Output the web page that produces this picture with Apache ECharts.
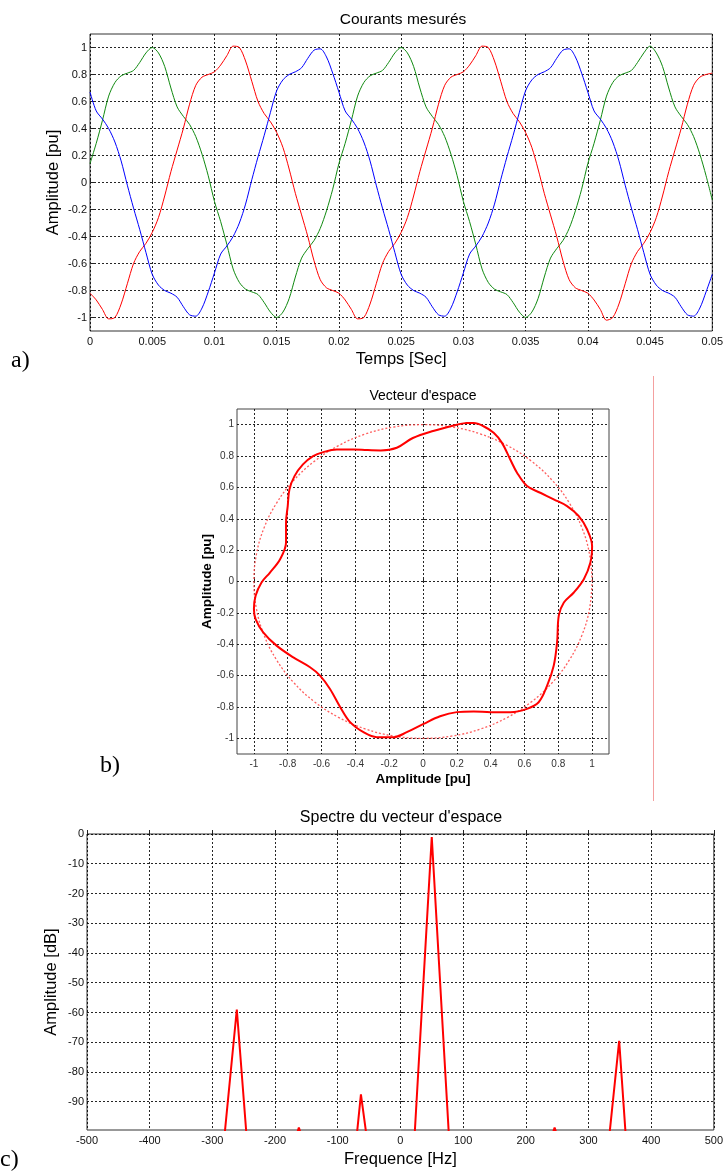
<!DOCTYPE html>
<html><head><meta charset="utf-8">
<script src="https://cdn.jsdelivr.net/npm/echarts@6/dist/echarts.min.js"></script>
<style>html,body{margin:0;padding:0;background:#fff}#c{width:726px;height:1171px}</style>
</head><body><div id="c"></div>
<script>
// ---------- Panel a : measured currents ----------
const timeA = [0,0.0005,0.001,0.0015,0.002,0.0025,0.003,0.0035,0.004,0.0045,0.005,0.0055,0.006,0.0065,0.007,0.0075,0.008,0.0085,0.009,0.0095,
0.01,0.0105,0.011,0.0115,0.012,0.0125,0.013,0.0135,0.014,0.0145,0.015,0.0155,0.016,0.0165,0.017,0.0175,0.018,0.0185,0.019,0.0195,
0.02,0.0205,0.021,0.0215,0.022,0.0225,0.023,0.0235,0.024,0.0245,0.025,0.0255,0.026,0.0265,0.027,0.0275,0.028,0.0285,0.029,0.0295,
0.03,0.0305,0.031,0.0315,0.032,0.0325,0.033,0.0335,0.034,0.0345,0.035,0.0355,0.036,0.0365,0.037,0.0375,0.038,0.0385,0.039,0.0395,
0.04,0.0405,0.041,0.0415,0.042,0.0425,0.043,0.0435,0.044,0.0445,0.045,0.0455,0.046,0.0465,0.047,0.0475,0.048,0.0485,0.049,0.0495,0.05];
const greenA = [0.14,0.29,0.46,0.64,0.74,0.79,0.81,0.83,0.89,0.96,1.00,0.96,0.86,0.70,0.56,0.49,0.43,0.34,0.21,0.05,
-0.14,-0.29,-0.46,-0.64,-0.74,-0.79,-0.81,-0.83,-0.89,-0.96,-1.00,-0.96,-0.86,-0.70,-0.56,-0.49,-0.43,-0.34,-0.21,-0.05,
0.14,0.29,0.46,0.64,0.74,0.79,0.81,0.83,0.89,0.96,1.00,0.96,0.86,0.70,0.56,0.49,0.43,0.34,0.21,0.05,
-0.14,-0.29,-0.46,-0.64,-0.74,-0.79,-0.81,-0.83,-0.89,-0.96,-1.00,-0.96,-0.86,-0.70,-0.56,-0.49,-0.43,-0.34,-0.21,-0.05,
0.14,0.29,0.46,0.64,0.74,0.79,0.81,0.83,0.89,0.96,1.01,0.96,0.86,0.70,0.56,0.49,0.43,0.34,0.21,0.05,-0.13];
const redA = [-0.82,-0.87,-0.94,-1.01,-1.00,-0.90,-0.75,-0.60,-0.51,-0.45,-0.37,-0.26,-0.10,0.08,0.24,0.40,0.58,0.72,0.78,0.80,
0.82,0.87,0.94,1.01,1.00,0.90,0.75,0.60,0.51,0.45,0.37,0.26,0.10,-0.08,-0.24,-0.40,-0.58,-0.72,-0.78,-0.80,
-0.82,-0.87,-0.94,-1.01,-1.00,-0.90,-0.75,-0.60,-0.51,-0.45,-0.37,-0.26,-0.10,0.08,0.24,0.40,0.58,0.72,0.78,0.80,
0.82,0.87,0.94,1.01,1.00,0.90,0.75,0.60,0.51,0.45,0.37,0.26,0.10,-0.08,-0.24,-0.40,-0.58,-0.72,-0.78,-0.80,
-0.82,-0.87,-0.94,-1.02,-1.00,-0.90,-0.75,-0.60,-0.51,-0.45,-0.37,-0.26,-0.10,0.08,0.24,0.40,0.58,0.72,0.78,0.80,0.81];
const blueA = [0.67,0.53,0.47,0.40,0.30,0.16,-0.02,-0.19,-0.35,-0.52,-0.68,-0.76,-0.80,-0.82,-0.85,-0.92,-0.98,-0.99,-0.93,-0.81,
-0.67,-0.53,-0.47,-0.40,-0.30,-0.16,0.02,0.19,0.35,0.52,0.68,0.76,0.80,0.82,0.85,0.92,0.98,0.99,0.93,0.81,
0.67,0.53,0.47,0.40,0.30,0.16,-0.02,-0.19,-0.35,-0.52,-0.68,-0.76,-0.80,-0.82,-0.85,-0.92,-0.98,-0.99,-0.93,-0.81,
-0.67,-0.53,-0.47,-0.40,-0.30,-0.16,0.02,0.19,0.35,0.52,0.68,0.76,0.80,0.82,0.85,0.92,0.98,0.99,0.93,0.81,
0.67,0.53,0.47,0.40,0.30,0.16,-0.02,-0.19,-0.35,-0.52,-0.68,-0.76,-0.80,-0.82,-0.85,-0.92,-0.98,-0.99,-0.93,-0.81,-0.68];
const xTicksA = [0,0.005,0.01,0.015,0.02,0.025,0.03,0.035,0.04,0.045,0.05];
const yTicksA = [-1,-0.8,-0.6,-0.4,-0.2,0,0.2,0.4,0.6,0.8,1];

// ---------- Panel b : space vector ----------
const vecX = [0.25,0.20,0.06,-0.06,-0.155,-0.25,-0.33,-0.41,-0.51,-0.59,-0.65,-0.71,-0.76,-0.79,-0.80,-0.81,-0.81,-0.845,-0.905,-0.955,
-0.99,-1.0,-0.99,-0.945,-0.866,-0.767,-0.668,-0.609,-0.55,-0.49,-0.431,-0.352,-0.273,-0.175,-0.096,0.003,0.101,0.20,0.30,0.40,
0.517,0.615,0.684,0.734,0.773,0.793,0.803,0.833,0.892,0.951,0.99,1.0,0.97,0.92,0.852,0.773,0.694,0.615,0.556,0.516,
0.467,0.418,0.358,0.30,0.25];
const vecY = [1.01,1.0,0.96,0.915,0.853,0.836,0.838,0.842,0.842,0.825,0.80,0.747,0.672,0.587,0.481,0.375,0.248,0.142,0.057,-0.006,
-0.091,-0.176,-0.24,-0.324,-0.409,-0.484,-0.547,-0.60,-0.685,-0.80,-0.897,-0.961,-0.993,-0.993,-0.961,-0.908,-0.859,-0.833,-0.829,-0.833,
-0.833,-0.812,-0.77,-0.664,-0.537,-0.388,-0.218,-0.134,-0.07,0.015,0.121,0.227,0.333,0.418,0.481,0.524,0.566,0.609,0.694,0.778,
0.884,0.948,0.99,1.01,1.01];
const circX = [1,0.985,0.940,0.866,0.766,0.643,0.5,0.342,0.174,0,-0.174,-0.342,-0.5,-0.643,-0.766,-0.866,-0.940,-0.985,-1,
-0.985,-0.940,-0.866,-0.766,-0.643,-0.5,-0.342,-0.174,0,0.174,0.342,0.5,0.643,0.766,0.866,0.940,0.985,1];
const circY = [0,0.174,0.342,0.5,0.643,0.766,0.866,0.940,0.985,1,0.985,0.940,0.866,0.766,0.643,0.5,0.342,0.174,0,
-0.174,-0.342,-0.5,-0.643,-0.766,-0.866,-0.940,-0.985,-1,-0.985,-0.940,-0.866,-0.766,-0.643,-0.5,-0.342,-0.174,0];
const ticksB = [-1,-0.8,-0.6,-0.4,-0.2,0,0.2,0.4,0.6,0.8,1];

// ---------- Panel c : spectrum ----------
const specFreq = [-280,-261,-246,null,-164,-162,-160,null,-69,-63,-55,null,23,50,77,null,244,246,248,null,334,349,359];
const specDb   = [-100,-59,-100,null,-100,-98.7,-100,null,-100,-87.5,-100,null,-100,-1,-100,null,-100,-98.7,-100,null,-100,-69.5,-100];
const xTicksC = [-500,-400,-300,-200,-100,0,100,200,300,400,500];
const yTicksC = [-90,-80,-70,-60,-50,-40,-30,-20,-10,0];

const FONT = '"Liberation Sans", Arial, Helvetica, sans-serif';
const gridLine = {show:true, lineStyle:{color:'#000', width:1, type:[2,2], opacity:0.85}};

function axis(gi, min, max, ticks, o) {
  return {
    type:'value', gridIndex:gi, min:min, max:max,
    axisLine:{show:false},
    axisTick:{show:true, inside:true, length:4, customValues:ticks, lineStyle:{color:'#222'}},
    axisLabel:{customValues:ticks, color:o.lc||'#111', fontSize:o.ls||11, fontFamily:FONT, margin:o.lm||5},
    splitLine:gridLine,
    name:o.name, nameLocation:'middle', nameGap:o.ng, nameMoveOverlap:false,
    nameTextStyle:{color:'#000', fontSize:o.ns, fontFamily:FONT, fontWeight:o.bold?'bold':'normal'}
  };
}

const chart = echarts.init(document.getElementById('c'), null, {renderer:'canvas'});
chart.setOption({
  animation:false,
  backgroundColor:'#fff',
  grid:[
    {left:90, top:34, width:626, height:297, show:true, borderColor:'#333', borderWidth:1, backgroundColor:'#fff'},
    {left:237, top:409, width:372, height:345, show:true, borderColor:'#444', borderWidth:1, backgroundColor:'#fff'},
    {left:87, top:834, width:629, height:296, show:true, borderColor:'#333', borderWidth:1, backgroundColor:'#fff'}
  ],
  xAxis:[
    axis(0, 0, 0.05, xTicksA, {name:'Temps [Sec]', ng:20, ns:16.5, lm:5}),
    axis(1, -1.1, 1.1, ticksB, {name:'Amplitude [pu]', ng:18.5, ns:13.5, bold:true, ls:10, lc:'#333', lm:5}),
    axis(2, -500, 500, xTicksC, {name:'Frequence [Hz]', ng:21, ns:16.5, lm:5})
  ],
  yAxis:[
    axis(0, -1.1, 1.1, yTicksA, {name:'Amplitude [pu]', ng:28, ns:16.5, lm:3}),
    axis(1, -1.1, 1.1, ticksB, {name:'Amplitude [pu]', ng:23, ns:13.5, bold:true, ls:10, lc:'#333', lm:3}),
    axis(2, -99.5, 0, yTicksC, {name:'Amplitude [dB]', ng:27, ns:16.5, lm:3})
  ],
  series:[
    {type:'line', xAxisIndex:0, yAxisIndex:0, data:timeA.map((t,i)=>[t,greenA[i]]), showSymbol:false, smooth:0.3, lineStyle:{color:'#108a10', width:1}},
    {type:'line', xAxisIndex:0, yAxisIndex:0, data:timeA.map((t,i)=>[t,redA[i]]), showSymbol:false, smooth:0.3, lineStyle:{color:'#ff0000', width:1}},
    {type:'line', xAxisIndex:0, yAxisIndex:0, data:timeA.map((t,i)=>[t,blueA[i]]), showSymbol:false, smooth:0.3, lineStyle:{color:'#0000ff', width:1}},
    {type:'line', xAxisIndex:1, yAxisIndex:1, data:circX.map((x,i)=>[x,circY[i]]), showSymbol:false, smooth:0.4, lineStyle:{color:'#ff4d4d', width:1.3, type:[2,2], opacity:0.9}},
    {type:'line', xAxisIndex:1, yAxisIndex:1, data:vecX.map((x,i)=>[x,vecY[i]]), showSymbol:false, smooth:0.35, lineStyle:{color:'#ff0000', width:2}},
    {type:'line', xAxisIndex:2, yAxisIndex:2, data:specFreq.map((f,i)=> f===null ? ['-','-'] : [f,specDb[i]]), showSymbol:false, connectNulls:false, lineStyle:{color:'#ff0000', width:2}}
  ],
  graphic:[
    {type:'text', x:403, y:20, style:{text:'Courants mesurés', font:'15.5px '+FONT, fill:'#000', align:'center', verticalAlign:'middle'}},
    {type:'text', x:423, y:396, style:{text:"Vecteur d'espace", font:'14px '+FONT, fill:'#000', align:'center', verticalAlign:'middle'}},
    {type:'text', x:401, y:818, style:{text:"Spectre du vecteur d'espace", font:'16px '+FONT, fill:'#000', align:'center', verticalAlign:'middle'}},
    {type:'text', x:11, y:361, style:{text:'a)', font:'24px "Liberation Serif", "Times New Roman", serif', fill:'#000', align:'left', verticalAlign:'middle'}},
    {type:'text', x:100, y:766, style:{text:'b)', font:'24px "Liberation Serif", "Times New Roman", serif', fill:'#000', align:'left', verticalAlign:'middle'}},
    {type:'text', x:0, y:1160, style:{text:'c)', font:'24px "Liberation Serif", "Times New Roman", serif', fill:'#000', align:'left', verticalAlign:'middle'}},
    {type:'line', shape:{x1:653.5, y1:376, x2:653.5, y2:801}, style:{stroke:'#f4a0a0', lineWidth:1}}
  ]
});
</script></body></html>
